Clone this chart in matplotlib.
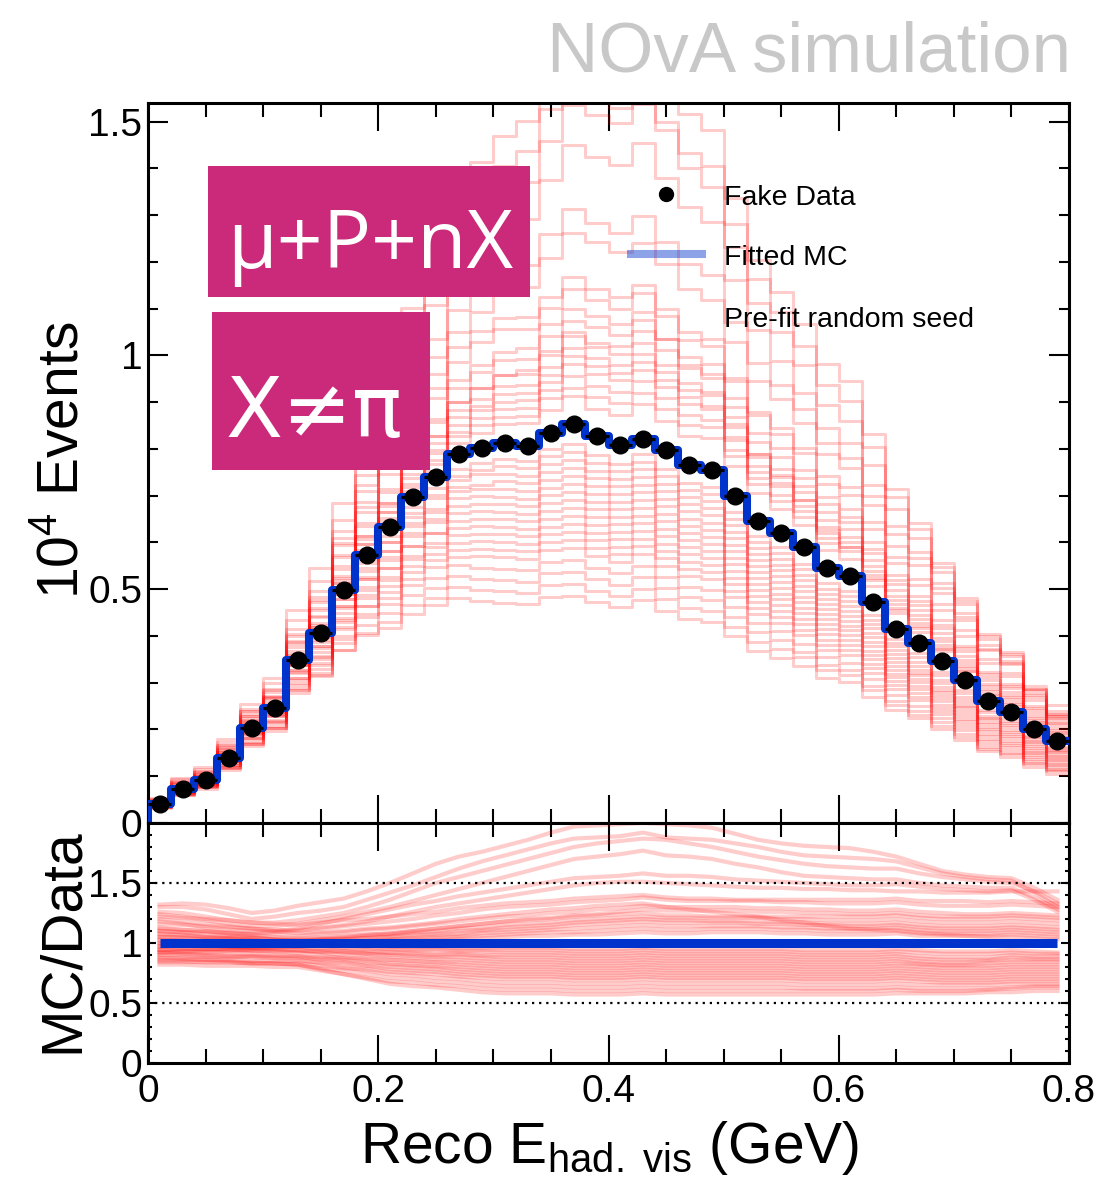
import numpy as np
import matplotlib
matplotlib.use("Agg")
import matplotlib.pyplot as plt
from matplotlib.lines import Line2D
from matplotlib.patches import Rectangle
from matplotlib.ticker import MultipleLocator, FixedLocator, FuncFormatter

plt.rcParams['font.family'] = ['Liberation Sans', 'DejaVu Sans']
plt.rcParams['mathtext.fontset'] = 'custom'
plt.rcParams['mathtext.rm'] = 'Liberation Sans'
plt.rcParams['mathtext.it'] = 'Liberation Sans:italic'
plt.rcParams['mathtext.bf'] = 'Liberation Sans:bold'

# ---------------- data ----------------
# 40 bins of Reco E_had,vis from 0 to 0.8 GeV
bin_edges = np.linspace(0.0, 0.8, 41)

# events (units of 10^4)
fake_data = [0.040, 0.072, 0.091, 0.140, 0.204, 0.245, 0.348, 0.407, 0.499, 0.573,
             0.633, 0.697, 0.739, 0.789, 0.803, 0.812, 0.807, 0.834, 0.853, 0.828,
             0.809, 0.822, 0.797, 0.766, 0.756, 0.700, 0.647, 0.621, 0.590, 0.545,
             0.528, 0.473, 0.415, 0.386, 0.347, 0.306, 0.261, 0.238, 0.201, 0.176]

fitted_mc = [0.040, 0.072, 0.091, 0.140, 0.204, 0.245, 0.348, 0.407, 0.499, 0.573,
             0.633, 0.697, 0.739, 0.789, 0.803, 0.812, 0.807, 0.834, 0.853, 0.828,
             0.809, 0.822, 0.797, 0.766, 0.756, 0.700, 0.647, 0.621, 0.590, 0.545,
             0.528, 0.473, 0.415, 0.386, 0.347, 0.306, 0.261, 0.238, 0.201, 0.176]

# pre-fit random seeds, read as MC/Data ratio per bin
seed_ratio_high = [
    [1.32,1.33,1.32,1.29,1.25,1.27,1.31,1.34,1.37,1.43,1.50,1.58,1.66,1.72,1.76,1.81,1.86,1.92,1.97,1.98,1.99,2.00,1.99,1.98,1.96,1.91,1.86,1.83,1.81,1.80,1.79,1.76,1.72,1.66,1.60,1.57,1.55,1.54,1.46,1.36],
    [1.30,1.30,1.28,1.24,1.20,1.22,1.25,1.27,1.30,1.36,1.42,1.48,1.55,1.62,1.68,1.73,1.78,1.83,1.87,1.88,1.89,1.92,1.88,1.87,1.86,1.83,1.80,1.76,1.73,1.72,1.71,1.70,1.68,1.63,1.58,1.55,1.53,1.52,1.42,1.30],
    [1.26,1.25,1.22,1.19,1.17,1.17,1.19,1.22,1.25,1.30,1.36,1.43,1.50,1.55,1.60,1.65,1.70,1.75,1.80,1.83,1.85,1.87,1.86,1.83,1.80,1.76,1.72,1.69,1.66,1.64,1.63,1.62,1.62,1.58,1.55,1.53,1.51,1.50,1.43,1.33],
    [1.24,1.22,1.19,1.16,1.14,1.14,1.16,1.19,1.22,1.26,1.30,1.35,1.40,1.45,1.50,1.55,1.60,1.65,1.70,1.72,1.74,1.77,1.73,1.72,1.70,1.66,1.63,1.59,1.56,1.55,1.54,1.53,1.53,1.50,1.48,1.47,1.46,1.46,1.38,1.28],
    [1.18,1.16,1.13,1.11,1.10,1.10,1.12,1.16,1.20,1.24,1.28,1.32,1.35,1.39,1.42,1.45,1.48,1.51,1.54,1.55,1.56,1.58,1.56,1.56,1.55,1.53,1.52,1.51,1.50,1.49,1.48,1.48,1.49,1.47,1.45,1.44,1.43,1.44,1.36,1.26],
    [1.12,1.11,1.10,1.09,1.08,1.09,1.11,1.13,1.15,1.18,1.22,1.26,1.30,1.33,1.36,1.39,1.42,1.45,1.48,1.50,1.51,1.51,1.50,1.49,1.48,1.47,1.46,1.46,1.45,1.45,1.44,1.44,1.43,1.43,1.42,1.42,1.42,1.43,1.43,1.43],
]

seed_ratio_mid = [
    [1.22,1.21,1.20,1.19,1.17,1.16,1.15,1.17,1.19,1.20,1.22,1.24,1.26,1.29,1.31,1.33,1.34,1.35,1.37,1.38,1.39,1.40,1.38,1.37,1.37,1.36,1.36,1.36,1.36,1.36,1.36,1.36,1.37,1.35,1.35,1.35,1.34,1.35,1.34,1.33],
    [1.16,1.15,1.14,1.13,1.12,1.11,1.10,1.12,1.14,1.16,1.18,1.20,1.23,1.25,1.28,1.30,1.31,1.32,1.34,1.35,1.36,1.38,1.36,1.35,1.35,1.35,1.35,1.34,1.34,1.33,1.33,1.33,1.34,1.32,1.31,1.31,1.31,1.32,1.31,1.30],
    [1.20,1.18,1.16,1.14,1.12,1.10,1.08,1.09,1.10,1.12,1.13,1.15,1.17,1.20,1.22,1.24,1.26,1.28,1.29,1.31,1.32,1.33,1.30,1.28,1.26,1.24,1.22,1.19,1.17,1.14,1.12,1.11,1.10,1.08,1.07,1.06,1.05,1.05,1.04,1.03],
    [1.10,1.09,1.09,1.08,1.07,1.07,1.06,1.08,1.09,1.11,1.12,1.14,1.16,1.18,1.20,1.22,1.23,1.25,1.26,1.28,1.29,1.31,1.30,1.30,1.30,1.30,1.29,1.29,1.28,1.28,1.27,1.27,1.28,1.26,1.25,1.24,1.24,1.25,1.24,1.23],
    [1.13,1.11,1.10,1.08,1.07,1.05,1.04,1.05,1.06,1.07,1.08,1.10,1.12,1.14,1.16,1.18,1.20,1.21,1.23,1.24,1.26,1.28,1.27,1.27,1.27,1.27,1.26,1.26,1.25,1.25,1.24,1.24,1.25,1.23,1.22,1.22,1.22,1.23,1.22,1.21],
    [1.05,1.05,1.04,1.04,1.04,1.03,1.03,1.04,1.05,1.07,1.08,1.10,1.12,1.14,1.16,1.18,1.19,1.20,1.22,1.23,1.24,1.25,1.23,1.23,1.22,1.22,1.22,1.22,1.22,1.22,1.22,1.22,1.23,1.21,1.20,1.20,1.20,1.21,1.20,1.19],
    [1.00,1.00,1.01,1.01,1.01,1.02,1.02,1.03,1.04,1.06,1.07,1.09,1.10,1.12,1.13,1.15,1.16,1.17,1.19,1.20,1.21,1.22,1.21,1.21,1.21,1.21,1.21,1.20,1.20,1.19,1.19,1.19,1.20,1.18,1.17,1.17,1.17,1.18,1.17,1.16],
    [0.97,0.98,0.98,0.99,0.99,1.00,1.01,1.02,1.03,1.04,1.05,1.07,1.08,1.10,1.11,1.13,1.14,1.15,1.17,1.18,1.19,1.20,1.19,1.19,1.18,1.18,1.18,1.17,1.17,1.16,1.16,1.16,1.17,1.15,1.14,1.14,1.14,1.15,1.14,1.13],
    [1.07,1.06,1.05,1.05,1.04,1.03,1.02,1.03,1.03,1.04,1.05,1.06,1.07,1.08,1.10,1.11,1.12,1.13,1.15,1.16,1.17,1.18,1.17,1.17,1.17,1.17,1.16,1.16,1.15,1.15,1.14,1.14,1.15,1.13,1.12,1.12,1.12,1.13,1.12,1.11],
    [0.94,0.95,0.95,0.96,0.96,0.97,0.98,0.99,1.00,1.02,1.03,1.04,1.05,1.06,1.08,1.09,1.10,1.11,1.12,1.13,1.14,1.15,1.14,1.14,1.14,1.14,1.14,1.13,1.13,1.12,1.12,1.12,1.13,1.11,1.10,1.10,1.10,1.11,1.10,1.09],
    [1.02,1.02,1.01,1.01,1.01,1.00,1.00,1.00,1.01,1.01,1.02,1.03,1.04,1.05,1.06,1.07,1.08,1.09,1.09,1.10,1.11,1.12,1.11,1.11,1.12,1.12,1.12,1.11,1.11,1.10,1.10,1.10,1.11,1.09,1.08,1.08,1.08,1.09,1.08,1.07],
    [0.92,0.93,0.94,0.94,0.95,0.96,0.97,0.98,0.99,1.00,1.01,1.02,1.02,1.03,1.04,1.05,1.06,1.06,1.07,1.07,1.08,1.09,1.08,1.08,1.09,1.09,1.09,1.08,1.08,1.07,1.07,1.07,1.08,1.06,1.06,1.06,1.06,1.07,1.06,1.05],
]

seed_ratio_low = [
    [1.05,1.04,1.03,1.03,1.02,1.01,1.00,0.99,0.98,0.98,0.97,0.97,0.97,0.96,0.96,0.96,0.96,0.96,0.95,0.95,0.95,0.96,0.95,0.95,0.95,0.95,0.95,0.95,0.94,0.94,0.94,0.94,0.95,0.94,0.93,0.93,0.93,0.94,0.93,0.92],
    [0.98,0.98,0.98,0.97,0.97,0.97,0.97,0.96,0.96,0.95,0.95,0.95,0.95,0.94,0.94,0.94,0.94,0.94,0.93,0.93,0.93,0.94,0.93,0.93,0.93,0.93,0.93,0.93,0.92,0.92,0.92,0.92,0.93,0.92,0.91,0.91,0.91,0.92,0.91,0.91],
    [1.10,1.09,1.07,1.06,1.05,1.03,1.02,1.00,0.98,0.97,0.95,0.94,0.94,0.93,0.93,0.92,0.92,0.92,0.91,0.91,0.91,0.92,0.91,0.91,0.91,0.91,0.91,0.91,0.90,0.90,0.90,0.90,0.91,0.89,0.88,0.88,0.88,0.90,0.89,0.89],
    [0.92,0.92,0.92,0.93,0.93,0.93,0.93,0.93,0.93,0.92,0.92,0.92,0.91,0.91,0.90,0.90,0.90,0.90,0.89,0.89,0.89,0.90,0.89,0.89,0.89,0.89,0.89,0.89,0.88,0.88,0.88,0.88,0.89,0.87,0.86,0.86,0.86,0.88,0.87,0.87],
    [1.08,1.07,1.05,1.04,1.03,1.01,1.00,0.98,0.96,0.94,0.92,0.91,0.90,0.90,0.89,0.88,0.88,0.88,0.87,0.87,0.87,0.88,0.87,0.87,0.87,0.87,0.87,0.87,0.86,0.86,0.86,0.86,0.87,0.85,0.84,0.84,0.85,0.86,0.86,0.86],
    [0.95,0.95,0.95,0.95,0.94,0.94,0.94,0.93,0.92,0.91,0.90,0.89,0.88,0.88,0.87,0.86,0.86,0.86,0.85,0.85,0.85,0.86,0.85,0.85,0.85,0.85,0.85,0.85,0.84,0.84,0.84,0.84,0.85,0.83,0.82,0.82,0.83,0.84,0.84,0.84],
    [1.03,1.02,1.01,1.00,0.99,0.98,0.97,0.95,0.93,0.91,0.89,0.88,0.87,0.86,0.85,0.84,0.84,0.84,0.83,0.83,0.83,0.84,0.83,0.83,0.83,0.83,0.83,0.83,0.82,0.82,0.82,0.82,0.83,0.82,0.81,0.81,0.81,0.82,0.82,0.82],
    [0.88,0.88,0.88,0.88,0.89,0.89,0.89,0.88,0.88,0.87,0.86,0.85,0.84,0.84,0.83,0.82,0.82,0.82,0.81,0.81,0.81,0.82,0.81,0.81,0.81,0.81,0.81,0.81,0.80,0.80,0.80,0.80,0.81,0.80,0.79,0.79,0.79,0.80,0.80,0.80],
    [1.00,0.99,0.98,0.97,0.96,0.95,0.94,0.92,0.90,0.88,0.86,0.85,0.84,0.82,0.81,0.80,0.80,0.80,0.79,0.79,0.79,0.80,0.79,0.79,0.79,0.79,0.79,0.79,0.78,0.78,0.78,0.78,0.79,0.78,0.77,0.77,0.77,0.78,0.78,0.78],
    [0.90,0.90,0.89,0.89,0.89,0.88,0.88,0.87,0.86,0.84,0.83,0.82,0.81,0.80,0.79,0.78,0.78,0.78,0.77,0.77,0.77,0.78,0.77,0.77,0.77,0.77,0.77,0.77,0.76,0.76,0.76,0.76,0.77,0.76,0.75,0.75,0.75,0.76,0.76,0.76],
    [0.97,0.96,0.95,0.95,0.94,0.93,0.92,0.90,0.87,0.85,0.82,0.81,0.80,0.78,0.77,0.76,0.76,0.76,0.75,0.75,0.75,0.76,0.75,0.75,0.75,0.75,0.75,0.75,0.74,0.74,0.74,0.74,0.75,0.74,0.73,0.73,0.73,0.74,0.74,0.74],
    [0.86,0.86,0.86,0.86,0.85,0.85,0.85,0.84,0.83,0.81,0.80,0.79,0.78,0.76,0.75,0.74,0.74,0.74,0.73,0.73,0.73,0.74,0.73,0.73,0.73,0.73,0.73,0.73,0.72,0.72,0.72,0.72,0.73,0.72,0.71,0.71,0.71,0.72,0.72,0.72],
    [0.94,0.93,0.92,0.92,0.91,0.90,0.89,0.86,0.84,0.81,0.78,0.77,0.76,0.74,0.73,0.72,0.72,0.72,0.71,0.71,0.71,0.72,0.71,0.71,0.71,0.71,0.71,0.71,0.70,0.70,0.70,0.70,0.71,0.70,0.69,0.69,0.69,0.70,0.70,0.70],
    [0.84,0.84,0.84,0.84,0.83,0.83,0.83,0.81,0.79,0.78,0.76,0.75,0.74,0.72,0.71,0.70,0.70,0.70,0.69,0.69,0.69,0.70,0.69,0.69,0.69,0.69,0.69,0.69,0.68,0.68,0.68,0.68,0.69,0.68,0.67,0.67,0.67,0.68,0.68,0.68],
    [0.92,0.91,0.90,0.89,0.88,0.87,0.86,0.83,0.80,0.77,0.74,0.73,0.71,0.70,0.68,0.67,0.67,0.67,0.66,0.66,0.66,0.67,0.66,0.66,0.66,0.66,0.66,0.66,0.65,0.65,0.65,0.65,0.66,0.65,0.65,0.65,0.65,0.66,0.66,0.66],
    [0.85,0.85,0.84,0.84,0.83,0.83,0.82,0.79,0.77,0.74,0.71,0.70,0.68,0.67,0.65,0.64,0.64,0.64,0.63,0.63,0.63,0.64,0.63,0.63,0.63,0.63,0.63,0.63,0.62,0.62,0.62,0.62,0.63,0.62,0.62,0.62,0.62,0.63,0.64,0.64],
    [0.82,0.82,0.81,0.81,0.81,0.80,0.80,0.77,0.74,0.71,0.68,0.67,0.65,0.64,0.62,0.61,0.61,0.61,0.60,0.60,0.60,0.61,0.60,0.60,0.60,0.60,0.60,0.60,0.60,0.60,0.60,0.60,0.61,0.60,0.60,0.60,0.61,0.62,0.63,0.63],
    [0.88,0.87,0.86,0.85,0.84,0.83,0.82,0.78,0.74,0.70,0.66,0.64,0.63,0.61,0.59,0.58,0.58,0.58,0.57,0.57,0.57,0.58,0.57,0.57,0.57,0.57,0.57,0.57,0.57,0.57,0.57,0.57,0.58,0.58,0.58,0.58,0.59,0.59,0.60,0.60],
]

top_yticks = [0, 0.5, 1, 1.5]
ratio_yticks = [0, 0.5, 1, 1.5]
x_ticks = [0, 0.2, 0.4, 0.6, 0.8]
ratio_guides = [0.5, 1.5]

# ---------------- figure ----------------
W, H = 1101, 1181
fig = plt.figure(figsize=(W / 100, H / 100), dpi=100)

ax = fig.add_axes([148 / W, 1 - 823 / H, 921 / W, 720 / H])
axr = fig.add_axes([148 / W, 1 - 1063 / H, 921 / W, 240 / H], sharex=ax)

data = np.array(fake_data)
mc = np.array(fitted_mc)
edges = bin_edges
centers = 0.5 * (edges[:-1] + edges[1:])
half_w = 0.5 * np.diff(edges)
seeds = [np.array(s) for s in seed_ratio_high + seed_ratio_mid + seed_ratio_low]

RED = '#ff0000'
BLUE = '#0033cc'


def step_xy(vals):
    x = np.concatenate([[edges[0]], edges])
    y = np.concatenate([[0.0], vals, [vals[-1]]])
    return x, y


for r in seeds:
    x, y = step_xy(r * data)
    ax.step(x, y, where='post', color=RED, alpha=0.2, lw=2.2, zorder=2)

x, y = step_xy(mc)
ax.step(x, y, where='post', color=BLUE, lw=5.8, zorder=3)

ax.errorbar(centers, data, xerr=half_w, fmt='o', ms=12, color='black',
            elinewidth=2.2, capsize=0, zorder=5)

ax.set_xlim(0, 0.8)
ax.set_ylim(0, 1.54)

# ratio panel
for r in seeds:
    axr.plot(centers, r, color=RED, alpha=0.2, lw=3.0, zorder=2)
for g in ratio_guides:
    axr.axhline(g, color='black', lw=1.6, ls=(0, (1, 2.2)), zorder=3)
axr.plot(centers, mc / data, color=BLUE, lw=6.5, zorder=4, solid_capstyle='butt')
axr.set_ylim(0, 2.0)
axr.set_xlim(0, 0.8)

fmt = FuncFormatter(lambda v, p: f'{v:g}')
for a in (ax, axr):
    for s in a.spines.values():
        s.set_linewidth(2.2)
    a.xaxis.set_major_locator(FixedLocator(x_ticks))
    a.xaxis.set_minor_locator(MultipleLocator(0.05))
    a.tick_params(which='both', direction='in', top=True, right=True, width=1.5,
                  labelsize=28, colors='black')
    a.tick_params(axis='x', which='major', length=20)
    a.tick_params(axis='x', which='minor', length=10)

ax.yaxis.set_major_locator(FixedLocator(top_yticks))
ax.yaxis.set_minor_locator(MultipleLocator(0.1))
ax.yaxis.set_major_formatter(fmt)
ax.tick_params(axis='y', which='major', length=14.4, pad=4)
ax.tick_params(axis='y', which='minor', length=7.2)
ax.tick_params(axis='x', labelbottom=False)

axr.yaxis.set_major_locator(FixedLocator(ratio_yticks))
axr.yaxis.set_minor_locator(MultipleLocator(0.1))
axr.yaxis.set_major_formatter(fmt)
axr.xaxis.set_major_formatter(fmt)
axr.tick_params(axis='y', which='major', length=6, pad=4)
axr.tick_params(axis='y', which='minor', length=3)
axr.tick_params(axis='x', which='major', pad=8)

# axis labels
fig.text(62 / W, 1 - 460 / H, r'10$^{4}$ Events', rotation=90, ha='center', va='center', fontsize=41)
fig.text(63 / W, 1 - 941 / H, 'MC/Data', rotation=90, ha='center', va='center', fontsize=41)
fig.text(610 / W, 1 - 1163 / H, r'Reco E$_{\mathrm{had.\ vis}}$ (GeV)', ha='center', va='baseline', fontsize=41)

# title
fig.text(1071 / W, 1 - 71 / H, 'NOvA simulation', ha='right', va='baseline', fontsize=51, color='#c8c8c8')

# magenta tags
MAG = '#cb2a7b'
fig.add_artist(Rectangle((208 / W, 1 - 297 / H), 322 / W, 131 / H, transform=fig.transFigure,
                         facecolor=MAG, edgecolor='none', zorder=6))
fig.add_artist(Rectangle((212 / W, 1 - 470 / H), 218 / W, 158 / H, transform=fig.transFigure,
                         facecolor=MAG, edgecolor='none', zorder=6))
fig.text(227 / W, 1 - 268 / H, 'μ+P+nX', color='white', fontsize=58, ha='left', va='baseline',
         family=['Open Sans', 'DejaVu Sans'], zorder=7)
fig.text(226 / W, 1 - 437 / H, 'X≠π', color='white', fontsize=60, ha='left', va='baseline',
         family=['DejaVu Sans'], zorder=7)

# legend
fig.add_artist(Line2D([666 / W], [1 - 194 / H], marker='o', ms=10, color='black', ls='none',
                      transform=fig.transFigure, zorder=8))
fig.add_artist(Line2D([627 / W, 706 / W], [1 - 254 / H, 1 - 254 / H], color=BLUE, alpha=0.45, lw=5.8,
                      solid_capstyle='butt', transform=fig.transFigure, zorder=8))
leg_fs = 20.5
fig.text(724 / W, 1 - 205 / H, 'Fake Data', fontsize=leg_fs, ha='left', va='baseline', zorder=8)
fig.text(724 / W, 1 - 265 / H, 'Fitted MC', fontsize=leg_fs, ha='left', va='baseline', zorder=8)
fig.text(724 / W, 1 - 327 / H, 'Pre-fit random seed', fontsize=leg_fs, ha='left', va='baseline', zorder=8)

fig.savefig('out.png', dpi=100)
